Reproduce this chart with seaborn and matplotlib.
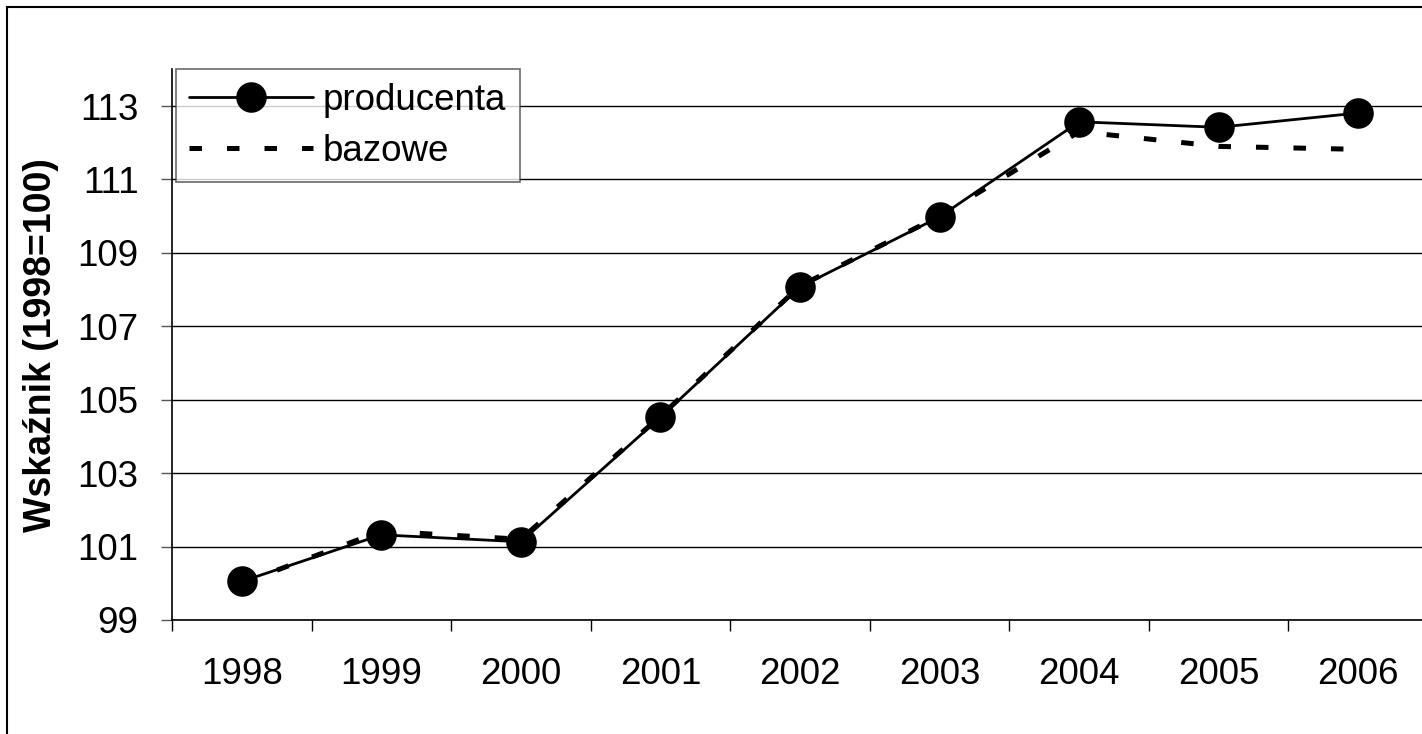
import numpy as np
import pandas as pd
import seaborn as sns
import matplotlib.pyplot as plt
from matplotlib.patches import Rectangle
from matplotlib.lines import Line2D

# data
years = ['1998', '1999', '2000', '2001', '2002', '2003', '2004', '2005', '2006']
producenta = [100.05, 101.32, 101.13, 104.52, 108.07, 109.98, 112.57, 112.42, 112.81]
bazowe = [100.0, 101.42, 101.2, 104.55, 108.1, 110.0, 112.3, 111.9, 111.82]

df = pd.DataFrame({'pos': np.arange(len(years)), 'rok': years,
                   'producenta': producenta, 'bazowe': bazowe})

sns.set_style('white')
plt.rcParams['font.family'] = ['Liberation Sans', 'DejaVu Sans']
plt.rcParams['text.color'] = 'black'
plt.rcParams['xtick.color'] = 'black'
plt.rcParams['ytick.color'] = 'black'
plt.rcParams['axes.labelcolor'] = 'black'

fig = plt.figure(figsize=(14.22, 7.34), dpi=100)
ax = fig.add_axes([172/1422, 1 - 620/734, (1428 - 172)/1422, (620 - 69.3)/734])

# dashed series first so the markers sit on top
sns.lineplot(data=df, x='pos', y='bazowe', ax=ax, color='black', lw=3.6,
             dashes=False, zorder=3)
ax.lines[-1].set_dashes((2.5, 5))
sns.lineplot(data=df, x='pos', y='producenta', ax=ax, color='black', lw=2,
             marker='o', markersize=22, markeredgewidth=0, zorder=4)

ax.set_xlim(-0.5, len(years) - 0.5)
ax.set_ylim(99, 114)
ax.set_yticks(np.arange(99, 114, 2))
ax.yaxis.grid(True, color='black', lw=1)
ax.set_axisbelow(True)

# boundary ticks on x, labels in the middle of each category
ax.set_xticks(np.arange(-0.5, len(years), 1))
ax.set_xticklabels([])
ax.set_xticks(df['pos'], minor=True)
ax.set_xticklabels(years, minor=True, fontsize=26.5)
ax.tick_params(axis='x', which='major', length=8, width=1, color='black', direction='out', bottom=True)
ax.tick_params(axis='x', which='minor', length=0, pad=27)
ax.tick_params(axis='y', length=8, width=1, color='#555555', direction='out', left=True,
               labelsize=26.5, pad=16)

for s in ['top', 'right']:
    ax.spines[s].set_visible(False)
for s in ['left', 'bottom']:
    ax.spines[s].set_color('black')
    ax.spines[s].set_linewidth(1.2)

ax.set_xlabel('')
ax.set_ylabel('Wskaźnik (1998=100)', fontsize=27, fontweight='bold', labelpad=13)

handles = [Line2D([], [], color='black', lw=2, marker='o', markersize=22, markeredgewidth=0),
           Line2D([], [], color='black', lw=3.6, dashes=(2.5, 5))]
leg = ax.legend(handles, ['producenta', 'bazowe'], loc='upper left',
                bbox_to_anchor=(0.003, 1.0), fontsize=26.5, frameon=True, fancybox=False,
                handlelength=3.37, handletextpad=0.27, borderpad=0.36, labelspacing=0.45,
                borderaxespad=0)
leg.get_frame().set_edgecolor('#444444')
leg.get_frame().set_linewidth(1.2)

# outer chart border (cut off on the right and bottom)
fig.patches.append(Rectangle((7/1422, -0.05), 1.1, 1 - 7/734 + 0.05, transform=fig.transFigure,
                             fill=False, edgecolor='black', lw=1.5))

fig.savefig('out.png', dpi=100)
